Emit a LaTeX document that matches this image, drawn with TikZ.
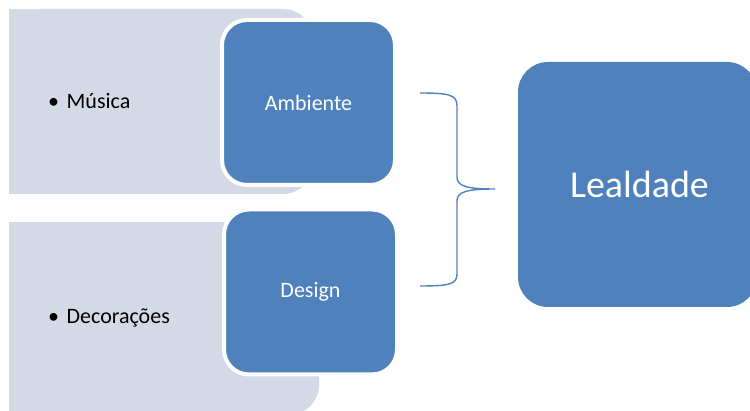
\documentclass[tikz,border=0pt]{standalone}
\usepackage{fontspec}
\setmainfont{Carlito}
\definecolor{accentblue}{RGB}{79,129,189}
\definecolor{lighttint}{RGB}{211,218,230}
\tikzset{
  tintbox/.style={rectangle, fill=lighttint, rounded corners=30pt, inner sep=0pt},
  bluebox/.style={rectangle, fill=accentblue, draw=white, line width=4pt,
    rounded corners=25pt, minimum width=173pt, minimum height=165pt,
    text=white, font=\fontsize{22}{26}\selectfont},
  bigbox/.style={rectangle, fill=accentblue, rounded corners=30pt, inner sep=0pt,
    minimum width=239pt, minimum height=245pt,
    text=white, font=\fontsize{38}{44}\selectfont},
  itemtext/.style={anchor=west, inner sep=0pt, text=black,
    font=\fontsize{22}{26}\selectfont},
  brace/.style={draw=accentblue, line width=1.4pt}
}
\begin{document}
\begin{tikzpicture}[x=1pt, y=-1pt]
  \useasboundingbox (0,0) rectangle (750,411);
  \clip (0,0) rectangle (750,411);

  % light panels, square on the left, rounded on the right
  \node[tintbox, minimum width=304pt, minimum height=185pt] (musbox) at (161,101.5) {};
  \fill[lighttint] (musbox.north west) rectangle (musbox.south);
  \node[tintbox, minimum width=310pt, minimum height=193pt] (decbox) at (164,318.5) {};
  \fill[lighttint] (decbox.north west) rectangle (decbox.south);

  % bullet items
  \node[itemtext] (musica) at ([xshift=39pt]musbox.west) {\textbullet\hspace{0.35em}Música};
  \node[itemtext] (decor) at ([xshift=39pt]decbox.west) {\textbullet\hspace{0.35em}Decorações};

  % category boxes
  \node[bluebox] (amb) at (308.5,102.5) {Ambiente};
  \node[bluebox] (des) at (310.5,292) {Design};

  % result box
  \node[bigbox] (leal) at (637.5,184.5) {};
  \node[text=white, font=\fontsize{38}{44}\selectfont] (lealtext) at ([xshift=2pt]leal.center) {Lealdade};

  % brace gathering both categories
  \coordinate (btop) at (420,93);
  \coordinate (bbot) at (420,286);
  \coordinate (btip) at (495,189);
  \draw[brace] (btop) .. controls (450,93) and (457,95) .. (457,106)
    -- (457,177) .. controls (457,186) and (466,189) .. (btip)
    .. controls (466,189) and (457,192) .. (457,201)
    -- (457,274) .. controls (457,284) and (450,286) .. (bbot);
\end{tikzpicture}
\end{document}
